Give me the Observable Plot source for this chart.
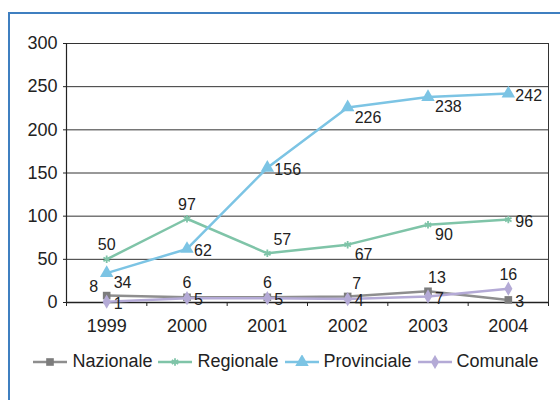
<!DOCTYPE html>
<html>
<head>
<meta charset="utf-8">
<script src="https://cdn.jsdelivr.net/npm/d3@7"></script>
<script src="https://cdn.jsdelivr.net/npm/@observablehq/plot@0.6"></script>
<style>
  html, body { margin: 0; padding: 0; background: #fff; }
  body { width: 560px; height: 400px; position: relative; overflow: hidden;
         font-family: "Liberation Sans", Arial, sans-serif; color: #222; }
  #frame { position: absolute; left: 8px; top: 12px; width: 600px; height: 440px;
           border-left: 2px solid #3f7fc0; border-top: 2px solid #3f7fc0; box-sizing: border-box; }
  #chart { position: absolute; left: 0; top: 0; }
  #legend { position: absolute; left: 0; top: 351px; width: 572px; display: flex;
            justify-content: center; align-items: center; font-size: 18px; }
  .item { display: flex; align-items: center; margin: 0 3px; }
  .item svg { margin-right: 5px; }
</style>
</head>
<body>
<div id="frame"></div>
<div id="chart"></div>
<div id="legend"></div>
<script>
// ---- data ----
const years = [1999, 2000, 2001, 2002, 2003, 2004];
const seriesNames = ["Nazionale", "Regionale", "Provinciale", "Comunale"];
const nazionale   = [8, 6, 6, 7, 13, 3];
const regionale   = [50, 97, 57, 67, 90, 96];
const provinciale = [34, 62, 156, 226, 238, 242];
const comunale    = [1, 5, 5, 4, 7, 16];
const yTicks = [0, 50, 100, 150, 200, 250, 300];
// label placement codes (a = above, al = above-left, ar = above-right, r = right, br = below-right)
const nazionalePos   = ["al", "a", "a", "ar", "ar", "r"];
const regionalePos   = ["a", "a", "ar2", "br", "br", "r"];
const provincialePos = ["br", "r", "r", "br", "br", "r"];
const comunalePos    = ["r", "r", "r", "r", "r", "a"];

// ---- styles ----
const lineColors   = ["#8e8e8e", "#7fc4a8", "#7cc4e4", "#b4aad6"];
const markerColors = ["#7c7c7c", "#7fc4a8", "#7cc4e4", "#b4aad6"];
const symbols = ["square", "asterisk", "triangle", "diamond"];
const placements = {
  a:   {dx: 0,  dy: -14, textAnchor: "middle"},
  al:  {dx: -13, dy: -9, textAnchor: "middle"},
  ar:  {dx: 9,  dy: -13, textAnchor: "middle"},
  ar2: {dx: 15, dy: -13, textAnchor: "middle"},
  r:   {dx: 7,  dy: 2,   textAnchor: "start"},
  br:  {dx: 7,  dy: 10,  textAnchor: "start"}
};

const valuesList = [nazionale, regionale, provinciale, comunale];
const posList = [nazionalePos, regionalePos, provincialePos, comunalePos];
const data = [];
seriesNames.forEach((s, i) => {
  years.forEach((yr, j) => data.push({series: s, year: yr, value: valuesList[i][j], pos: posList[i][j]}));
});

const boundaries = years.map(y => y - 0.5).concat([years[years.length - 1] + 0.5]);

const marks = [
  Plot.gridY(yTicks, {stroke: "#333", strokeOpacity: 1, strokeWidth: 1}),
  Plot.frame({stroke: "#333", strokeWidth: 1}),
  Plot.axisY(yTicks, {tickSize: 3, tickPadding: 6, fontSize: 18, stroke: "#222", fill: "#222", label: null}),
  Plot.axisX(years, {tickSize: 0, tickPadding: 17, fontSize: 18, fill: "#222", tickFormat: d => String(d), label: null}),
  Plot.axisX(boundaries, {tickSize: 4, tickFormat: () => "", stroke: "#222", label: null}),
  Plot.ruleX([boundaries[0]], {stroke: "#222", strokeWidth: 1.2}),
  Plot.ruleY([0], {stroke: "#222", strokeWidth: 1.5})
];

seriesNames.forEach((s, i) => {
  const sd = data.filter(d => d.series === s);
  marks.push(Plot.line(sd, {x: "year", y: "value", stroke: lineColors[i], strokeWidth: 2.5}));
  if (symbols[i] === "asterisk") {
    marks.push(Plot.dot(sd, {x: "year", y: "value", symbol: () => "asterisk", r: 3.5, stroke: markerColors[i], strokeWidth: 1.8}));
  } else {
    marks.push(Plot.dot(sd, {x: "year", y: "value", symbol: () => symbols[i], r: symbols[i] === "triangle" ? 5 : 4.3, fill: markerColors[i], stroke: "none"}));
  }
});
Object.entries(placements).forEach(([code, p]) => {
  marks.push(Plot.text(data.filter(d => d.pos === code), {
    x: "year", y: "value", text: d => String(d.value),
    dx: p.dx, dy: p.dy, textAnchor: p.textAnchor, fontSize: 16, fill: "#222"
  }));
});

const chart = Plot.plot({
  width: 560,
  height: 345,
  marginLeft: 66,
  marginRight: 12,
  marginTop: 43,
  marginBottom: 43,
  x: {type: "linear", domain: [boundaries[0], boundaries[boundaries.length - 1]], axis: null},
  y: {domain: [0, 300], axis: null},
  symbol: {type: "identity"},
  style: {fontFamily: "'Liberation Sans', Arial, sans-serif", fontSize: "18px", color: "#222", background: "transparent", overflow: "visible"},
  marks
});
document.getElementById("chart").appendChild(chart);

// ---- legend ----
const legend = d3.select("#legend");
seriesNames.forEach((s, i) => {
  const item = legend.append("div").attr("class", "item");
  const svg = item.append("svg").attr("width", 34).attr("height", 14);
  svg.append("line").attr("x1", 0).attr("x2", 34).attr("y1", 7).attr("y2", 7)
    .attr("stroke", lineColors[i]).attr("stroke-width", 2.5);
  const sym = {square: d3.symbolSquare, asterisk: d3.symbolAsterisk, triangle: d3.symbolTriangle, diamond: d3.symbolDiamond}[symbols[i]];
  const size = symbols[i] === "triangle" ? Math.PI * 25 : Math.PI * 4.3 * 4.3;
  const p = svg.append("path").attr("transform", "translate(17,7)")
    .attr("d", d3.symbol(sym, symbols[i] === "asterisk" ? Math.PI * 3.5 * 3.5 : size)());
  if (symbols[i] === "asterisk") p.attr("fill", "none").attr("stroke", markerColors[i]).attr("stroke-width", 1.8);
  else p.attr("fill", markerColors[i]);
  item.append("span").text(s);
});
</script>
</body>
</html>
